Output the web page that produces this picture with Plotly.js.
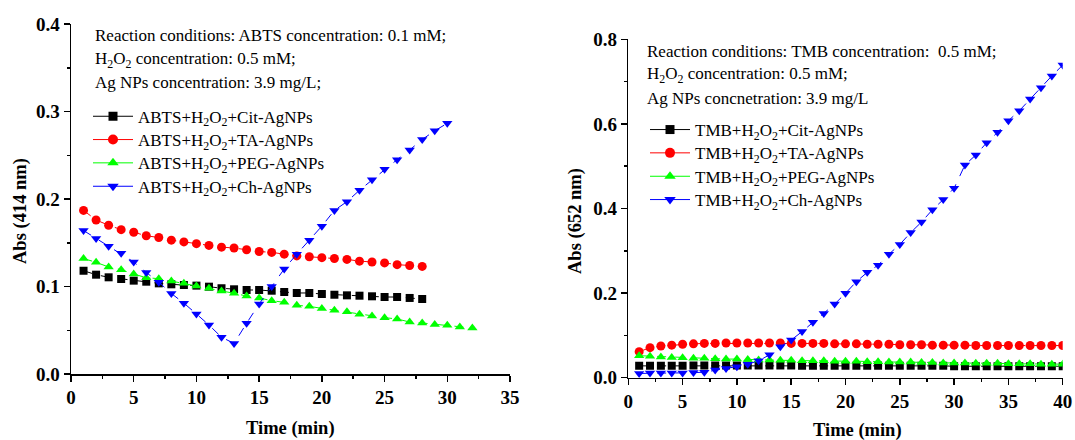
<!DOCTYPE html>
<html>
<head>
<meta charset="utf-8">
<script src="https://cdn.plot.ly/plotly-3.0.1.min.js"></script>
<style>html,body{margin:0;padding:0;background:#fff;}#chart{width:1075px;height:440px;}</style>
</head>
<body>
<div id="chart"></div>
<script>
// ---------- Left panel (ABTS, 414 nm) ----------
const timeCit = [1,2,3,4,5,6,7,8,9,10,11,12,13,14,15,16,17,18,19,20,21,22,23,24,25,26,27,28];
const absCit = [0.118,0.1135,0.1105,0.1086,0.1067,0.1055,0.1036,0.1025,0.1017,0.101,0.0998,0.098,0.0968,0.096,0.096,0.0952,0.0937,0.0926,0.0926,0.0914,0.0906,0.0899,0.0895,0.0888,0.088,0.088,0.0869,0.0857];
const timeTA = [1,2,3,4,5,6,7,8,9,10,11,12,13,14,15,16,17,18,19,20,21,22,23,24,25,26,27,28];
const absTA = [0.187,0.176,0.170,0.165,0.162,0.158,0.156,0.153,0.151,0.149,0.147,0.145,0.144,0.142,0.140,0.139,0.137,0.135,0.134,0.133,0.132,0.131,0.129,0.128,0.127,0.125,0.124,0.123];
const timePEG = [1,2,3,4,5,6,7,8,9,10,11,12,13,14,15,16,17,18,19,20,21,22,23,24,25,26,27,28,29,30,31,32];
const absPEG = [0.132,0.1276,0.1223,0.1192,0.1143,0.110,0.109,0.1063,0.1036,0.1006,0.098,0.0949,0.0922,0.0891,0.0869,0.0838,0.0819,0.0785,0.0773,0.075,0.0728,0.0712,0.0682,0.0663,0.0644,0.0629,0.0594,0.0583,0.0567,0.0556,0.0537,0.0526];
const timeCh = [1,2,3,4,5,6,7,8,9,10,11,12,13,14,15,16,17,18,19,20,21,22,23,24,25,26,27,28,29,30];
const absCh = [0.164,0.155,0.146,0.138,0.128,0.116,0.105,0.092,0.081,0.0686,0.056,0.042,0.035,0.058,0.080,0.100,0.120,0.137,0.153,0.169,0.187,0.197,0.210,0.222,0.234,0.245,0.256,0.268,0.278,0.2865];
const namesLeft = ["ABTS+H<sub>2</sub>O<sub>2</sub>+Cit-AgNPs","ABTS+H<sub>2</sub>O<sub>2</sub>+TA-AgNPs","ABTS+H<sub>2</sub>O<sub>2</sub>+PEG-AgNPs","ABTS+H<sub>2</sub>O<sub>2</sub>+Ch-AgNPs"];
const notesLeft = ["Reaction conditions: ABTS concentration: 0.1 mM;","H<sub>2</sub>O<sub>2</sub> concentration: 0.5 mM;","Ag NPs concentration: 3.9 mg/L;"];
const xTitleLeft = "Time (min)";
const yTitleLeft = "Abs (414 nm)";

// ---------- Right panel (TMB, 652 nm) ----------
const time2 = [1,2,3,4,5,6,7,8,9,10,11,12,13,14,15,16,17,18,19,20,21,22,23,24,25,26,27,28,29,30,31,32,33,34,35,36,37,38,39,40];
const absCit2 = [0.028,0.028,0.028,0.028,0.028,0.029,0.029,0.029,0.029,0.029,0.029,0.029,0.029,0.029,0.029,0.028,0.028,0.028,0.028,0.028,0.028,0.028,0.028,0.028,0.028,0.028,0.028,0.028,0.028,0.027,0.027,0.027,0.027,0.027,0.027,0.027,0.027,0.027,0.027,0.027];
const absTA2 = [0.0615,0.071,0.075,0.077,0.079,0.080,0.081,0.081,0.082,0.082,0.082,0.082,0.082,0.082,0.081,0.081,0.081,0.081,0.080,0.080,0.080,0.079,0.079,0.079,0.078,0.078,0.078,0.077,0.077,0.077,0.077,0.076,0.076,0.076,0.076,0.076,0.076,0.076,0.076,0.076];
const absPEG2 = [0.052,0.051,0.049,0.048,0.047,0.046,0.046,0.045,0.044,0.044,0.043,0.042,0.042,0.041,0.041,0.040,0.040,0.040,0.039,0.039,0.039,0.038,0.038,0.037,0.037,0.037,0.036,0.036,0.035,0.035,0.035,0.034,0.034,0.034,0.033,0.033,0.033,0.032,0.032,0.032];
const absCh2 = [0.010,0.011,0.011,0.011,0.011,0.012,0.013,0.018,0.022,0.026,0.032,0.040,0.054,0.073,0.089,0.109,0.131,0.152,0.174,0.1995,0.227,0.249,0.266,0.292,0.315,0.343,0.368,0.397,0.421,0.448,0.503,0.5265,0.5556,0.580,0.6076,0.631,0.659,0.6856,0.7135,0.739];
const namesRight = ["TMB+H<sub>2</sub>O<sub>2</sub>+Cit-AgNPs","TMB+H<sub>2</sub>O<sub>2</sub>+TA-AgNPs","TMB+H<sub>2</sub>O<sub>2</sub>+PEG-AgNPs","TMB+H<sub>2</sub>O<sub>2</sub>+Ch-AgNPs"];
const notesRight = ["Reaction conditions: TMB concentration:  0.5 mM;","H<sub>2</sub>O<sub>2</sub> concentration: 0.5 mM;","Ag NPs concnetration: 3.9 mg/L"];
const xTitleRight = "Time (min)";
const yTitleRight = "Abs (652 nm)";

const colors = ["#000000","#ff0000","#00ff00","#0000ff"];
const symbols = ["square","circle","triangle-up","triangle-down"];
const sizes = [8,9,9,9];

const SERIF = "Liberation Serif";
const W = 1075, H = 440;

const leftX = [timeCit, timeTA, timePEG, timeCh];
const leftY = [absCit, absTA, absPEG, absCh];
const rightY = [absCit2, absTA2, absPEG2, absCh2];

const traces = [];
for (let i = 0; i < 4; i++) {
  traces.push({x: leftX[i], y: leftY[i], xaxis: 'x', yaxis: 'y', mode: 'lines+markers', showlegend: false,
    line: {color: colors[i], width: 1, dash: 'dash'},
    marker: {color: colors[i], symbol: symbols[i], size: sizes[i]}});
}
for (let i = 0; i < 4; i++) {
  traces.push({x: time2, y: rightY[i], xaxis: 'x2', yaxis: 'y2', mode: 'lines+markers', showlegend: false,
    line: {color: colors[i], width: 1, dash: 'dash'},
    marker: {color: colors[i], symbol: symbols[i], size: sizes[i]}});
}
// legend entries (solid line, as in the reference legend), one legend box per row for exact spacing
const legendRowsLeft = [116.7, 140, 163.3, 186.7];
const legendRowsRight = [130, 153.3, 176.7, 200];
const layoutLegends = {};
for (let i = 0; i < 4; i++) {
  const idL = 'legend' + (i === 0 ? '' : (i + 1));
  const idR = 'legend' + (i + 5);
  traces.push({x: [null], y: [null], xaxis: 'x', yaxis: 'y', mode: 'lines+markers', name: namesLeft[i], legend: idL,
    line: {color: colors[i], width: 1}, marker: {color: colors[i], symbol: symbols[i], size: sizes[i] + 1}});
  traces.push({x: [null], y: [null], xaxis: 'x2', yaxis: 'y2', mode: 'lines+markers', name: namesRight[i], legend: idR,
    line: {color: colors[i], width: 1}, marker: {color: colors[i], symbol: symbols[i], size: sizes[i] + 1}});
  const common = {xanchor: 'left', yanchor: 'middle', bgcolor: 'rgba(0,0,0,0)', borderwidth: 0,
    font: {family: SERIF, size: 17, color: '#000'}, itemwidth: 40};
  layoutLegends[idL] = Object.assign({x: 88 / W, y: 1 - legendRowsLeft[i] / H}, common);
  layoutLegends[idR] = Object.assign({x: 645 / W, y: 1 - legendRowsRight[i] / H}, common);
}

function axisCommon(extra) {
  return Object.assign({
    showline: true, linecolor: '#000', linewidth: 1.5, showgrid: false, zeroline: false,
    ticks: 'outside', ticklen: 6, tickwidth: 1.5, tickcolor: '#000',
    tickfont: {family: SERIF, size: 19, color: '#000', weight: 'bold'},
    automargin: false, mirror: false
  }, extra);
}

const annotations = [];
const leftNoteY = [36, 59.5, 83];
const rightNoteY = [51.7, 75, 98.3];
for (let i = 0; i < 3; i++) {
  annotations.push({xref: 'paper', yref: 'paper', x: 93 / W, y: 1 - leftNoteY[i] / H, xanchor: 'left', yanchor: 'middle',
    text: notesLeft[i], showarrow: false, font: {family: SERIF, size: 17, color: '#000'}});
  annotations.push({xref: 'paper', yref: 'paper', x: 645 / W, y: 1 - rightNoteY[i] / H, xanchor: 'left', yanchor: 'middle',
    text: notesRight[i], showarrow: false, font: {family: SERIF, size: 17, color: '#000'}});
}
const titleFont = {family: SERIF, size: 18.5, weight: 'bold', color: '#000'};
annotations.push({xref: 'paper', yref: 'paper', x: 290.5 / W, y: 1 - 428 / H, xanchor: 'center', yanchor: 'middle',
  text: xTitleLeft, showarrow: false, font: titleFont});
annotations.push({xref: 'paper', yref: 'paper', x: 857 / W, y: 1 - 430 / H, xanchor: 'center', yanchor: 'middle',
  text: xTitleRight, showarrow: false, font: titleFont});
annotations.push({xref: 'paper', yref: 'paper', x: 21 / W, y: 1 - 211 / H, xanchor: 'center', yanchor: 'middle',
  text: yTitleLeft, textangle: -90, showarrow: false, font: titleFont});
annotations.push({xref: 'paper', yref: 'paper', x: 575 / W, y: 1 - 221 / H, xanchor: 'center', yanchor: 'middle',
  text: yTitleRight, textangle: -90, showarrow: false, font: titleFont});

const layout = Object.assign({
  width: W, height: H,
  margin: {l: 0, r: 0, t: 0, b: 0},
  paper_bgcolor: '#fff', plot_bgcolor: '#fff',
  font: {family: SERIF, color: '#000'},
  xaxis: axisCommon({domain: [71 / W, 510 / W], range: [0, 35], dtick: 5, tick0: 0,
    minor: {dtick: 2.5, ticks: 'outside', ticklen: 3, tickwidth: 1.5, tickcolor: '#000'}, anchor: 'y'}),
  yaxis: axisCommon({domain: [1 - 374 / H, 1 - 24 / H], range: [0, 0.4], dtick: 0.1, tick0: 0, tickformat: '.1f',
    minor: {dtick: 0.05, ticks: 'outside', ticklen: 3, tickwidth: 1.5, tickcolor: '#000'}, anchor: 'x'}),
  xaxis2: axisCommon({domain: [628.3 / W, 1062.7 / W], range: [0, 40], dtick: 5, tick0: 0,
    minor: {dtick: 2.5, ticks: 'outside', ticklen: 3, tickwidth: 1.5, tickcolor: '#000'}, anchor: 'y2'}),
  yaxis2: axisCommon({domain: [1 - 377.7 / H, 1 - 39.3 / H], range: [0, 0.8], dtick: 0.2, tick0: 0, tickformat: '.1f',
    minor: {dtick: 0.1, ticks: 'outside', ticklen: 3, tickwidth: 1.5, tickcolor: '#000'}, anchor: 'x2'}),
  annotations: annotations,
  showlegend: true
}, layoutLegends);

Plotly.newPlot('chart', traces, layout, {displayModeBar: false, staticPlot: true});
</script>
</body>
</html>
